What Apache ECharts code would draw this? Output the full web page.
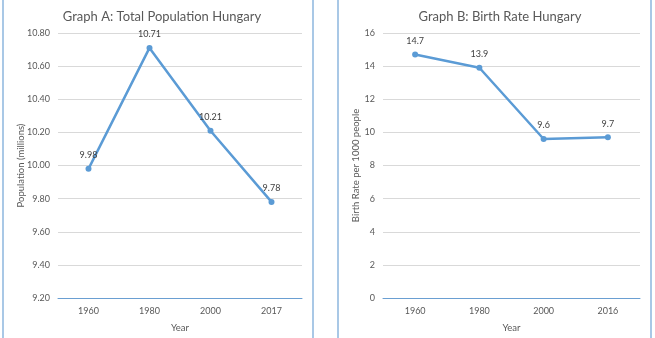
<!DOCTYPE html>
<html>
<head>
<meta charset="utf-8">
<script src="https://cdn.jsdelivr.net/npm/echarts@6/dist/echarts.min.js"></script>
<style>
  html, body { margin: 0; padding: 0; background: #fff; }
  #main { width: 655px; height: 338px; }
</style>
</head>
<body>
<div id="main"></div>
<script>
// graph A
var popYears = ['1960', '1980', '2000', '2017']
var popValues = [9.98, 10.71, 10.21, 9.78]
// graph B
var birthYears = ['1960', '1980', '2000', '2016']
var birthValues = [14.7, 13.9, 9.6, 9.7]

var lineColor = '#5B9BD5'
var textGray = '#595959'
var font = 'Lato'

function catAxis (idx, data) {
  return {
    gridIndex: idx,
    type: 'category',
    data: data,
    name: 'Year',
    nameLocation: 'middle',
    nameGap: 25,
    nameTextStyle: { color: textGray, fontSize: 9.5, fontFamily: font },
    axisLine: { lineStyle: { color: '#6A9FD2', width: 1 } },
    axisTick: { show: false },
    axisLabel: { color: textGray, fontSize: 9, fontFamily: font, margin: 9 }
  }
}

function valAxis (idx, name, min, max, interval, digits, gap) {
  return {
    gridIndex: idx,
    type: 'value',
    min: min,
    max: max,
    interval: interval,
    name: name,
    nameLocation: 'middle',
    nameGap: gap,
    nameMoveOverlap: false,
    nameTextStyle: { color: textGray, fontSize: 9.5, fontFamily: font },
    axisLine: { show: false },
    axisTick: { show: false },
    splitLine: { lineStyle: { color: '#D9D9D9', width: 1 } },
    axisLabel: {
      color: textGray, fontSize: 9, fontFamily: font, margin: 8,
      formatter: function (v) { return v.toFixed(digits) }
    }
  }
}

function lineSeries (idx, data) {
  return {
    type: 'line',
    xAxisIndex: idx,
    yAxisIndex: idx,
    data: data,
    symbol: 'circle',
    symbolSize: 6,
    lineStyle: { color: lineColor, width: 2.5 },
    itemStyle: { color: lineColor },
    label: {
      show: true,
      position: 'top',
      distance: 6,
      color: '#404040',
      fontSize: 9,
      fontFamily: font
    }
  }
}

var chart = echarts.init(document.getElementById('main'))
chart.setOption({
  animation: false,
  title: [
    {
      text: 'Graph A: Total Population Hungary',
      left: 157, top: 5, textAlign: 'center',
      textStyle: { color: textGray, fontSize: 13, fontWeight: 'normal', fontFamily: font }
    },
    {
      text: 'Graph B: Birth Rate Hungary',
      left: 495, top: 5, textAlign: 'center',
      textStyle: { color: textGray, fontSize: 13, fontWeight: 'normal', fontFamily: font }
    }
  ],
  grid: [
    { left: 58, top: 33, width: 244, height: 267 },
    { left: 383, top: 33, width: 257, height: 267 }
  ],
  xAxis: [catAxis(0, popYears), catAxis(1, birthYears)],
  yAxis: [
    valAxis(0, 'Population (millions)', 9.2, 10.8, 0.2, 2, 32),
    valAxis(1, 'Birth Rate per 1000 people', 0, 16, 2, 0, 22)
  ],
  series: [lineSeries(0, popValues), lineSeries(1, birthValues)],
  graphic: [
    {
      type: 'rect',
      shape: { x: 3, y: -5, width: 310, height: 350 },
      style: { fill: 'none', stroke: '#A9C8E6', lineWidth: 2 }
    },
    {
      type: 'rect',
      shape: { x: 338, y: -5, width: 313, height: 350 },
      style: { fill: 'none', stroke: '#A9C8E6', lineWidth: 2 }
    }
  ]
})
</script>
</body>
</html>
